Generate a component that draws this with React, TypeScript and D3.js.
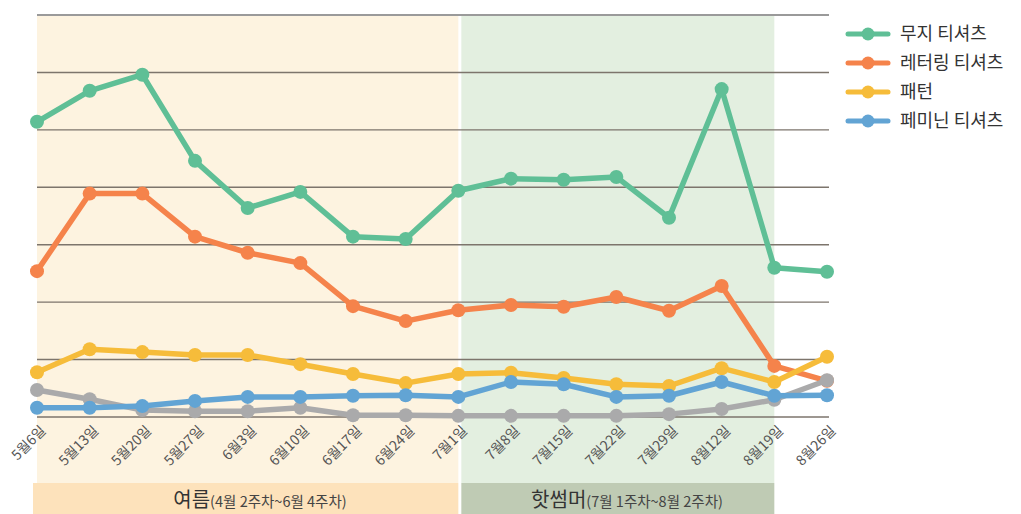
import * as d3 from "d3";

const weeks = [
  "5월6일", "5월13일", "5월20일", "5월27일", "6월3일", "6월10일", "6월17일", "6월24일",
  "7월1일", "7월8일", "7월15일", "7월22일", "7월29일", "8월12일", "8월19일", "8월26일",
];

const plainTee = [51.4, 56.8, 59.6, 44.6, 36.4, 39.2, 31.4, 31.0, 39.4, 41.5, 41.3, 41.8, 34.7, 57.1, 26.0, 25.3];
const letteringTee = [25.4, 38.9, 38.9, 31.4, 28.6, 26.8, 19.3, 16.7, 18.6, 19.5, 19.2, 20.9, 18.5, 22.8, 8.9, 6.3];
const pattern = [7.8, 11.8, 11.3, 10.8, 10.8, 9.2, 7.5, 5.9, 7.5, 7.7, 6.8, 5.7, 5.4, 8.5, 6.1, 10.5];
const feminineTee = [1.6, 1.6, 1.9, 2.8, 3.5, 3.5, 3.7, 3.8, 3.5, 6.1, 5.7, 3.5, 3.7, 6.1, 3.7, 3.8];
const otherTee = [4.7, 3.1, 1.2, 1.0, 1.0, 1.6, 0.3, 0.3, 0.2, 0.2, 0.2, 0.2, 0.5, 1.4, 3.0, 6.4];

const gridTicks = [0, 10, 20, 30, 40, 50, 60, 70];

const seasons = [
  { title: "여름", sub: "(4월 2주차~6월 4주차)", from: "5월6일", to: "7월1일" },
  { title: "핫썸머", sub: "(7월 1주차~8월 2주차)", from: "7월1일", to: "8월19일" },
];

// draw order matters: later series sit on top
const series = [
  { name: "레터링 티셔츠", values: letteringTee, color: "#f5834b" },
  { name: "기타", values: otherTee, color: "#aaaaab" },
  { name: "패턴", values: pattern, color: "#f6bc3a" },
  { name: "페미닌 티셔츠", values: feminineTee, color: "#62a4d4" },
  { name: "무지 티셔츠", values: plainTee, color: "#5fbf96" },
];
const legendOrder = ["무지 티셔츠", "레터링 티셔츠", "패턴", "페미닌 티셔츠"];

const WIDTH = 1021;
const HEIGHT = 514;
const FONT = "'Noto Sans CJK KR', 'Noto Sans', sans-serif";

export default function App() {
  const x = d3.scalePoint<string>().domain(weeks).range([37, 827]);
  const y = d3.scaleLinear().domain([0, 70]).range([417, 15]);
  const line = d3.line<number>()
    .x((_, i) => x(weeks[i])!)
    .y((d) => y(d));

  const bandTop = y(70);
  const bandBottom = 483;

  const seasonFill = ["#fdf3e0", "#e3efe0"];
  const seasonLabelFill = ["#fde2bb", "#bfcbb4"];
  const labelCenter = [260, 627];

  return (
    <svg width={WIDTH} height={HEIGHT} style={{ position: "absolute", left: 0, top: 0, fontFamily: FONT }}>
      {seasons.map((s, i) => {
        const x0 = x(s.from)! + (i === 0 ? 0 : 3);
        const x1 = x(s.to)!;
        return (
          <g key={s.title}>
            <rect x={x0} y={bandTop} width={x1 - x0} height={bandBottom - bandTop} fill={seasonFill[i]} />
            <rect x={i === 0 ? x0 - 4 : x0} y={bandBottom} width={x1 - x0 + (i === 0 ? 4 : 0)} height={HEIGHT - bandBottom} fill={seasonLabelFill[i]} />
            <text x={labelCenter[i]} y={507} textAnchor="middle" fill="#333">
              <tspan fontSize={20}>{s.title}</tspan>
              <tspan fontSize={14.5} fill="#444">{s.sub}</tspan>
            </text>
          </g>
        );
      })}

      {gridTicks.map((t, i) => (
        <line key={t} x1={37} x2={829} y1={y(t)} y2={y(t)}
          stroke={i === gridTicks.length - 1 ? "#9a9a9a" : "#7d756c"} strokeWidth={i === gridTicks.length - 1 ? 2 : 1.4} />
      ))}

      {weeks.map((w) => (
        <text key={w} transform={`translate(${x(w)! + 7},${429}) rotate(-45)`}
          textAnchor="end" dominantBaseline="middle" fontSize={14} fill="#555">
          {w}
        </text>
      ))}

      {series.map((s) => (
        <g key={s.name}>
          <path d={line(s.values) ?? ""} fill="none" stroke={s.color} strokeWidth={5.5} strokeLinejoin="round" />
          {s.values.map((v, i) => (
            <circle key={i} cx={x(weeks[i])} cy={y(v)} r={7} fill={s.color} />
          ))}
        </g>
      ))}

      <g transform="translate(848,34)">
        {legendOrder.map((name, i) => {
          const s = series.find((d) => d.name === name)!;
          return (
            <g key={name} transform={`translate(0,${i * 29})`}>
              <line x1={0} x2={40} y1={0} y2={0} stroke={s.color} strokeWidth={5} strokeLinecap="round" />
              <circle cx={20} cy={0} r={6.5} fill={s.color} />
              <text x={52} y={0} dy="0.36em" fontSize={18} fill="#333">{name}</text>
            </g>
          );
        })}
      </g>
    </svg>
  );
}
